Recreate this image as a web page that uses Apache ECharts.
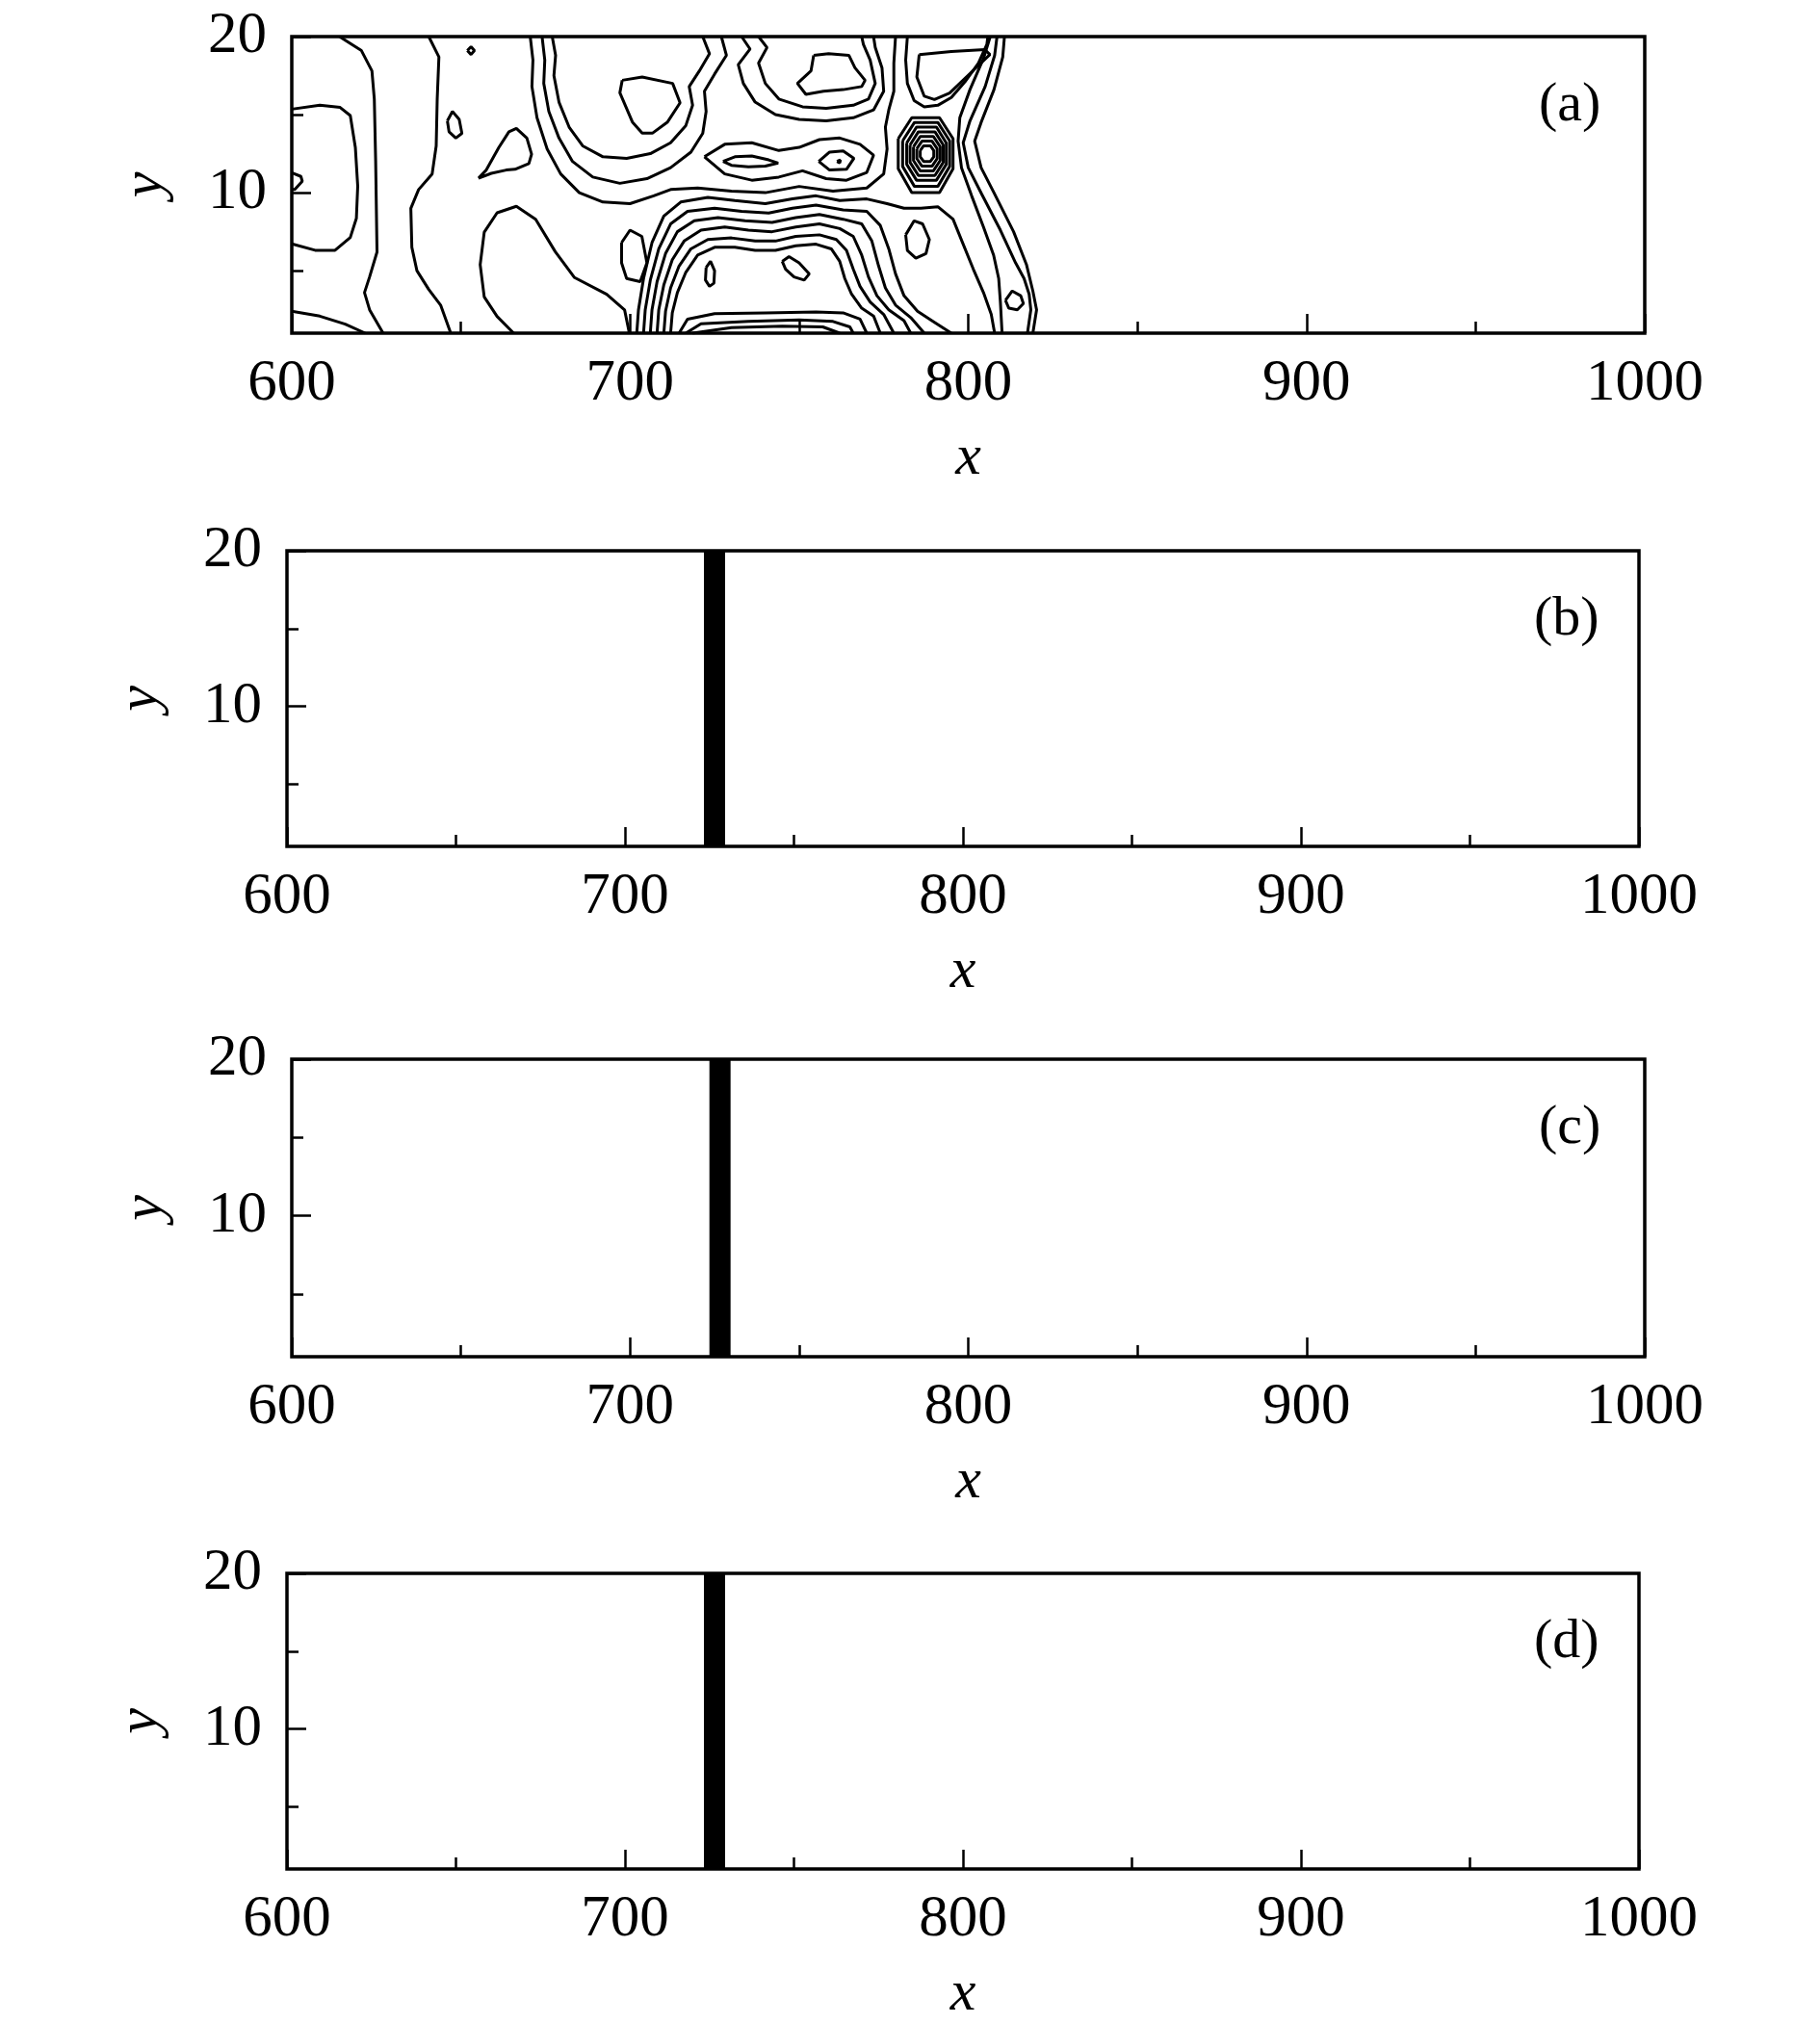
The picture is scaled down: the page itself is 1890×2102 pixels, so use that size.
<!DOCTYPE html>
<html><head><meta charset="utf-8">
<script src="https://cdn.jsdelivr.net/npm/echarts@6/dist/echarts.min.js"></script>
<style>html,body{margin:0;padding:0;background:#fff}#c{width:1890px;height:2102px}</style>
</head><body><div id="c"></div>
<script>
const xTicks = [600, 700, 800, 900, 1000];
const yLabelValues = [10, 20];
const yMinorValues = [5, 15];
const panelLabels = ['(a)', '(b)', '(c)', '(d)'];
// contour lines of panel (a): [x, y] points
const contoursLeft = [
  [[600,15.35],[608.3,15.6],[614.3,15.46],[617.3,14.94],[618.8,12.89],[619.5,10.42],[619.1,8.36],[617.3,7.13],[612.8,6.31],[606.9,6.31],[600,6.72]],
  [[600,11.28],[602.7,11.04],[603.1,10.73],[600.9,10.21],[600,10.2]],
  [[600,2.4],[608.3,2.09],[615.8,1.58],[621.7,1.0]],
  [[614.1,20],[620.6,19.1],[623.7,17.8],[624.4,16],[624.8,12],[625.2,6.2],[623,4.6],[621.5,3.6],[623,2.5],[627,1.0]],
  [[640.5,20],[643.5,18.7],[643,16],[642.7,13],[641.5,11.2],[637.5,10.2],[635.2,9],[635.5,6.5],[637,5],[640.5,3.8],[644,2.8],[647,1.0]],
  [[651.9,19.1],[653,19.35],[654,19.1],[653,18.85],[651.9,19.1]],
  [[646,14.6],[647.5,15.2],[649.5,14.7],[650.3,13.8],[648.5,13.5],[646.5,13.9],[646,14.6]],
  [[655.2,10.93],[657.5,11.45],[661.2,12.89],[664.2,13.9],[666.4,14.12],[669.5,13.5],[670.9,12.47],[670.1,11.86],[666,11.5],[663.4,11.45],[659,11.24],[655.2,10.93]],
  [[665.6,1.0],[660.7,2.07],[656.9,3.32],[655.7,5.39],[656.9,7.47],[660.7,8.71],[666.4,9.13],[672.1,8.3],[677.9,6.22],[683.6,4.56],[693.1,3.49],[698.4,2.49],[699.8,1.0]],
  [[697.5,6.8],[700,7.6],[703.5,7.2],[705,5.5],[703,4.3],[699,4.5],[697.5,5.5],[697.5,6.8]]
];
const contoursMiddle = [
  [[677,20],[678,18.8],[677.5,17.5],[679,15.8],[682,14.2],[686,13.0],[692,12.3],[699,12.2],[706,12.5],[712,13.2],[716.5,14.3],[718.5,15.6],[717.5,16.8],[720.5,17.8],[723.5,18.9],[721.5,20]],
  [[674,20],[674.8,18.5],[674.5,17],[676,15.2],[679,13.5],[683,12],[689,11],[697,10.6],[705,10.9],[712,11.6],[718,12.6],[721.5,13.8],[722.5,15.2],[722,16.5],[725,17.6],[728.5,18.8],[727,20]],
  [[670.5,20],[671.3,18.5],[671,16.8],[672.5,14.8],[675.5,12.8],[679.5,11.2],[685,10],[692,9.4],[700,9.3],[707,9.8],[712,10.2],[720,10.3],[730,10.1],[740,10.0],[750,10.4],[760,10.1],[770,10.3],[775,11.2],[776,12.8],[775.5,14.2],[776.5,15.3],[778,16.5],[778,18.3],[778.5,20]],
  [[697.7,17.2],[703.6,17.41],[712.6,17.0],[714.8,15.76],[711.1,14.53],[706.6,13.81],[703.6,13.81],[700.7,14.53],[697,16.4],[697.7,17.2]],
  [[727.5,12.0],[731,12.3],[736,12.35],[741,12.1],[743.8,11.9],[740,11.7],[735,11.65],[730,11.75],[727.5,12.0]],
  [[755.8,12.0],[759,12.6],[763,12.68],[766.2,12.2],[764,11.5],[759,11.45],[755.8,12.0]],
  [[761.2,12.0],[762.2,12.1],[762,11.9],[761.2,12.0]],
  [[722,12.3],[728,13.1],[736,13.2],[744,12.7],[750,12.9],[756,13.4],[762,13.5],[768,13.1],[772,12.4],[770,11.3],[764,10.8],[758,10.9],[751,11.4],[744,11.0],[736,10.8],[728,11.2],[722,12.3]],
  [[733,20],[735.5,19.2],[732,18.2],[733.5,17],[737,15.8],[743,15.0],[750,14.7],[758,14.6],[766,14.8],[772,15.3],[775,16.5],[774.5,18],[772.5,19.3],[772,20]],
  [[738,20],[740.5,19.3],[738,18.3],[740,17],[744,16],[751,15.5],[758,15.4],[766,15.6],[770.5,16],[772.5,17],[771,18.5],[769,19.5],[768.5,20]],
  [[754.3,18.8],[758.7,18.9],[764.7,18.8],[766.5,18.0],[769.5,17.2],[768.5,16.8],[763,16.6],[757.2,16.5],[752,16.3],[749.5,17.0],[753.5,17.8],[754.3,18.8]]
];
const contoursFront = [
  [[702,1.0],[702.5,2.5],[704,4.5],[706.5,6.8],[710,8.5],[715,9.4],[723,9.7],[731,9.5],[740,9.3],[748,9.6],[755,9.8],[762,9.5],[770,9.6],[776,9.3],[781,9.0],[786,9.0],[791,9.1],[795.5,8.3],[798.5,6.7],[801.5,5.1],[804.5,3.6],[806.8,2.2],[807.8,1.0]],
  [[704,1.0],[704.5,2.5],[706,4.4],[708.5,6.4],[712,8.0],[717,8.8],[725,9.0],[733,8.8],[741,8.7],[748,9.0],[755,9.2],[763,8.9],[770,8.8],[774,7.9],[776.5,6.4],[778.5,4.8],[781,3.4],[785,2.4],[790,1.7],[795,1.0]],
  [[706,1.0],[706.5,2.5],[708,4.3],[710.5,6.1],[714,7.5],[719,8.2],[726,8.4],[734,8.2],[742,8.1],[749,8.4],[756,8.6],[763,8.3],[768.5,8.0],[771.5,6.9],[773.5,5.3],[775.5,3.9],[778.5,2.8],[783,2.0],[787,1.0]],
  [[708,1.0],[708.5,2.5],[710,4.1],[712.5,5.7],[716,6.9],[721,7.6],[728,7.8],[735,7.6],[742,7.5],[749,7.8],[756,8.0],[762,7.7],[766,7.2],[768.5,6.0],[770.5,4.6],[773,3.4],[776.5,2.5],[781,1.8],[783,1.0]],
  [[710,1.0],[710.5,2.4],[712,3.9],[714.5,5.3],[718,6.4],[723,7.0],[730,7.1],[737,6.9],[743,6.9],[749,7.2],[756,7.3],[761,7.0],[764,6.3],[766,5.1],[768,4.0],[771,3.0],[775,2.2],[778,1.0]],
  [[712,1.0],[712.5,2.3],[714,3.6],[716.5,4.9],[720,6.0],[725,6.5],[731,6.5],[737,6.3],[743,6.3],[749,6.6],[755,6.7],[759.5,6.4],[762,5.6],[763.5,4.5],[765.5,3.5],[768.5,2.6],[772,2.1],[774,1.0]],
  [[714.5,1.0],[717,1.9],[725,2.25],[740,2.3],[755,2.35],[763,2.3],[768,1.9],[770,1.0]],
  [[716.5,1.0],[721,1.6],[735,1.75],[750,1.85],[760,1.75],[765,1.4],[766,1.0]],
  [[718.5,1.0],[730,1.35],[745,1.45],[757,1.4],[762,1.0]],
  [[722.5,5.2],[723.8,5.6],[725,5.0],[724.8,4.2],[723.5,4.0],[722.3,4.4],[722.5,5.2]],
  [[745,5.6],[747,5.9],[750,5.5],[753,4.8],[751.5,4.4],[748.5,4.6],[746,5.1],[745,5.6]],
  [[781.5,7.3],[784,8.2],[786.5,8.0],[788.5,7.0],[787.5,6.1],[784.5,5.8],[782,6.3],[781.5,7.3]]
];
const contoursRight = [
  [[810.7,20],[810.2,18.7],[807.6,16.6],[803.8,14.5],[801.9,13.3],[803.8,11.6],[807.6,10],[813.4,7.5],[817.2,5.4],[819.1,3.7],[820.2,2.5],[819.1,1.0]],
  [[808.5,20],[807.8,18.8],[805,16.8],[800.5,14.6],[798.5,13.2],[800,11.6],[804,9.9],[809.5,7.6],[814,5.5],[816.5,4.5],[818,3.5],[818.5,2.5],[817.5,1.0]],
  [[806.5,20],[804.5,18.6],[800.5,16.6],[797.5,14.8],[797,13.3],[798,11.6],[801,9.8],[804.5,7.8],[807.5,6],[809,4.5],[809.5,3],[810,1.0]],
  [[811,3.1],[813,3.7],[815.5,3.4],[816.3,2.9],[814.5,2.5],[812,2.6],[811,3.1]],
  [[785.5,18.85],[795,19.05],[804.9,19.16],[806.4,18.85],[800.4,17.61],[794.5,16.38],[790,15.97],[787,16.18],[784.8,17.41],[785.5,18.85]],
  [[782,20],[781.5,18.5],[782,17],[784,15.9],[787,15.5],[791,15.6],[795,16.1],[799,17.1],[803,18.3],[805.5,19.5],[805.8,20]],
  [[785.8,12.7],[786.8,13.0],[788.8,13.0],[789.8,12.7],[789.8,12.3],[788.8,12.0],[786.8,12.0],[785.8,12.3],[785.8,12.7]],
  [[784.8,12.82],[786.3,13.3],[789.3,13.3],[790.8,12.82],[790.8,12.18],[789.3,11.7],[786.3,11.7],[784.8,12.18],[784.8,12.82]],
  [[783.8,12.94],[785.8,13.6],[789.7,13.6],[791.7,12.94],[791.7,12.06],[789.7,11.4],[785.8,11.4],[783.8,12.06],[783.8,12.94]],
  [[782.8,13.06],[785.25,13.9],[790.15,13.9],[792.6,13.06],[792.6,11.94],[790.15,11.1],[785.25,11.1],[782.8,11.94],[782.8,13.06]],
  [[781.8,13.18],[784.7,14.2],[790.6,14.2],[793.5,13.18],[793.5,11.82],[790.6,10.8],[784.7,10.8],[781.8,11.82],[781.8,13.18]],
  [[780.6,13.32],[784.1,14.5],[791,14.5],[794.5,13.32],[794.5,11.68],[791,10.4],[784.1,10.4],[780.6,11.68],[780.6,13.32]],
  [[779.3,13.46],[783.3,14.8],[791.5,14.8],[795.5,13.46],[795.5,11.54],[791.5,10.0],[783.3,10.0],[779.3,11.54],[779.3,13.46]]
];
// vertical contour bands in panels (b)-(d)
const bandB = [723.8, 724.4, 725.0, 725.6, 726.2, 726.8, 727.4, 728.0, 728.6, 729.2];
const bandC = [723.9, 724.5, 725.1, 725.7, 726.3, 726.9, 727.5, 728.1, 728.7, 729.3];
const bandD = [723.8, 724.4, 725.0, 725.6, 726.2, 726.8, 727.4, 728.0, 728.6, 729.2];

const FONT = 'Liberation Serif';
const grids = [
  {left: 303, top: 38, width: 1405, height: 308},
  {left: 298, top: 572, width: 1404, height: 307},
  {left: 303, top: 1100, width: 1405, height: 309},
  {left: 298, top: 1634, width: 1404, height: 308}
];
const xAxes = [], yAxes = [], series = [], titles = [];
grids.forEach((g, i) => {
  g.show = true; g.borderColor = '#000'; g.borderWidth = 3.5; g.containLabel = false;
  xAxes.push({
    type: 'value', gridIndex: i, min: xTicks[0], max: xTicks[xTicks.length-1], interval: 100,
    axisLine: {show: false}, splitLine: {show: false},
    axisTick: {show: true, inside: true, length: 20, lineStyle: {color: '#000', width: 2.5}},
    minorTick: {show: true, splitNumber: 2, length: 12, lineStyle: {color: '#000', width: 2.5}},
    axisLabel: {color: '#000', fontFamily: FONT, fontSize: 61, margin: 22, formatter: v => String(v)},
    name: 'x', nameLocation: 'middle', nameGap: 100,
    nameTextStyle: {color: '#000', fontFamily: FONT, fontStyle: 'italic', fontSize: 60}
  });
  yAxes.push({
    type: 'value', gridIndex: i, min: 1, max: 20,
    axisLine: {show: false}, splitLine: {show: false},
    axisTick: {show: true, inside: true, length: 20, customValues: yLabelValues, lineStyle: {color: '#000', width: 2.5}},
    axisLabel: {color: '#000', fontFamily: FONT, fontSize: 61, margin: 26, customValues: yLabelValues},
    name: 'y', nameLocation: 'middle', nameGap: 122, nameRotate: 90,
    nameTextStyle: {color: '#000', fontFamily: FONT, fontStyle: 'italic', fontSize: 60}
  });
  yAxes.push({
    type: 'value', gridIndex: i, min: 1, max: 20, position: 'left',
    axisLine: {show: false}, splitLine: {show: false}, axisLabel: {show: false},
    axisTick: {show: true, inside: true, length: 12, customValues: yMinorValues, lineStyle: {color: '#000', width: 2.5}}
  });
  titles.push({text: panelLabels[i], left: g.left + 1290, top: g.top + 38,
    textStyle: {fontFamily: FONT, fontWeight: 'normal', fontSize: 58, color: '#000'}});
});
function addLine(grid, pts, w) {
  series.push({type: 'line', xAxisIndex: grid, yAxisIndex: grid*2, data: pts, showSymbol: false,
    silent: true, animation: false, lineStyle: {color: '#000', width: w}});
}
[contoursLeft, contoursMiddle, contoursFront, contoursRight].forEach(set => set.forEach(p => addLine(0, p, 3)));
[bandB, bandC, bandD].forEach((b, k) => b.forEach(x => addLine(k+1, [[x, 1], [x, 20]], 3)));
const chart = echarts.init(document.getElementById('c'));
chart.setOption({animation: false, title: titles, grid: grids, xAxis: xAxes, yAxis: yAxes, series: series});
</script></body></html>
